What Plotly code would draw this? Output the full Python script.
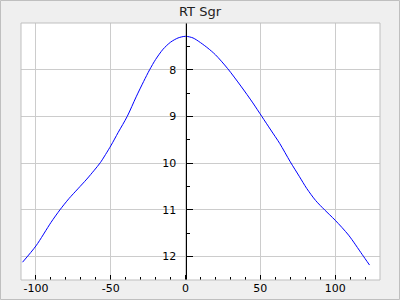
import plotly.graph_objects as go

title_text = "RT Sgr"
phase = [-109, -100, -90, -84, -78, -72, -66, -61, -57, -50, -45, -39, -33, -28, -24, -20, -15, -10, -5, 0,
         5, 10, 15, 20, 28, 37, 45, 51, 57, 63, 70, 76, 81, 87, 93, 100, 109, 118, 123]
mag = [12.12, 11.77, 11.27, 11.0, 10.76, 10.55, 10.34, 10.15, 9.99, 9.63, 9.34, 9.0, 8.58, 8.25, 8.0, 7.78, 7.56, 7.41, 7.32, 7.285,
       7.32, 7.42, 7.54, 7.68, 7.97, 8.35, 8.71, 9.0, 9.29, 9.58, 9.97, 10.28, 10.54, 10.80, 11.0, 11.22, 11.54, 11.95, 12.18]
x_ticks = [-100, -50, 0, 50, 100]
x_minor = [v for v in range(-100, 130, 10)]
y_ticks = [8, 9, 10, 11, 12]
y_minor = [7.5, 8.5, 9.5, 10.5, 11.5, 12.5]
x_range = [-110, 130]
y_range = [12.5, 7.0]

W, H = 400, 300
L, R, T, B = 21, 20, 23, 20
pw, ph = W - L - R, H - T - B

fig = go.Figure()
fig.add_trace(go.Scatter(x=phase, y=mag, mode="lines",
                         line=dict(color="#0000ff", width=1, shape="spline", smoothing=0.8),
                         hoverinfo="skip", showlegend=False))

font = dict(family="DejaVu Sans", size=11, color="#000000")
fig.update_layout(
    width=W, height=H,
    margin=dict(l=L, r=R, t=T, b=B, pad=0, autoexpand=False),
    paper_bgcolor="#efefef", plot_bgcolor="#ffffff",
    title=dict(text=title_text, x=0.5, xanchor="center", y=1 - 11 / H, yanchor="middle",
               font=dict(family="DejaVu Sans", size=13, color="#222222")),
    font=font,
    xaxis=dict(range=x_range, tickvals=x_ticks, ticktext=[str(v) for v in x_ticks],
               ticks="inside", ticklen=5, tickcolor="#000000", tickwidth=1,
               showgrid=True, gridcolor="#cccccc", gridwidth=1, zeroline=False,
               showline=False, tickfont=font, automargin=False,
               minor=dict(tickvals=x_minor, ticks="inside", ticklen=3, tickcolor="#000000",
                          tickwidth=1, showgrid=False)),
    yaxis=dict(range=y_range, tickvals=y_ticks, ticktext=[str(v) for v in y_ticks],
               anchor="free", position=(0 - x_range[0]) / (x_range[1] - x_range[0]),
               side="left", ticks="inside", ticklen=6, tickcolor="#000000", tickwidth=1,
               showline=True, linecolor="#000000", linewidth=1,
               showgrid=True, gridcolor="#cccccc", gridwidth=1, zeroline=False,
               tickfont=font, ticklabelstandoff=7, automargin=False,
               minor=dict(tickvals=y_minor, ticks="inside", ticklen=3, tickcolor="#000000",
                          tickwidth=1, showgrid=False)),
)

# plot area border
fig.add_shape(type="rect", xref="paper", yref="paper", x0=0, x1=1, y0=0, y1=1,
              line=dict(color="#bfbfbf", width=1), layer="above")
# outer frame
fig.add_shape(type="rect", xref="paper", yref="paper",
              x0=-(L - 0.5) / pw, x1=1 + (R - 0.5) / pw,
              y0=-(B - 0.5) / ph, y1=1 + (T - 0.5) / ph,
              line=dict(color="#bfbfbf", width=1), layer="below")

fig.write_html("out.html")
